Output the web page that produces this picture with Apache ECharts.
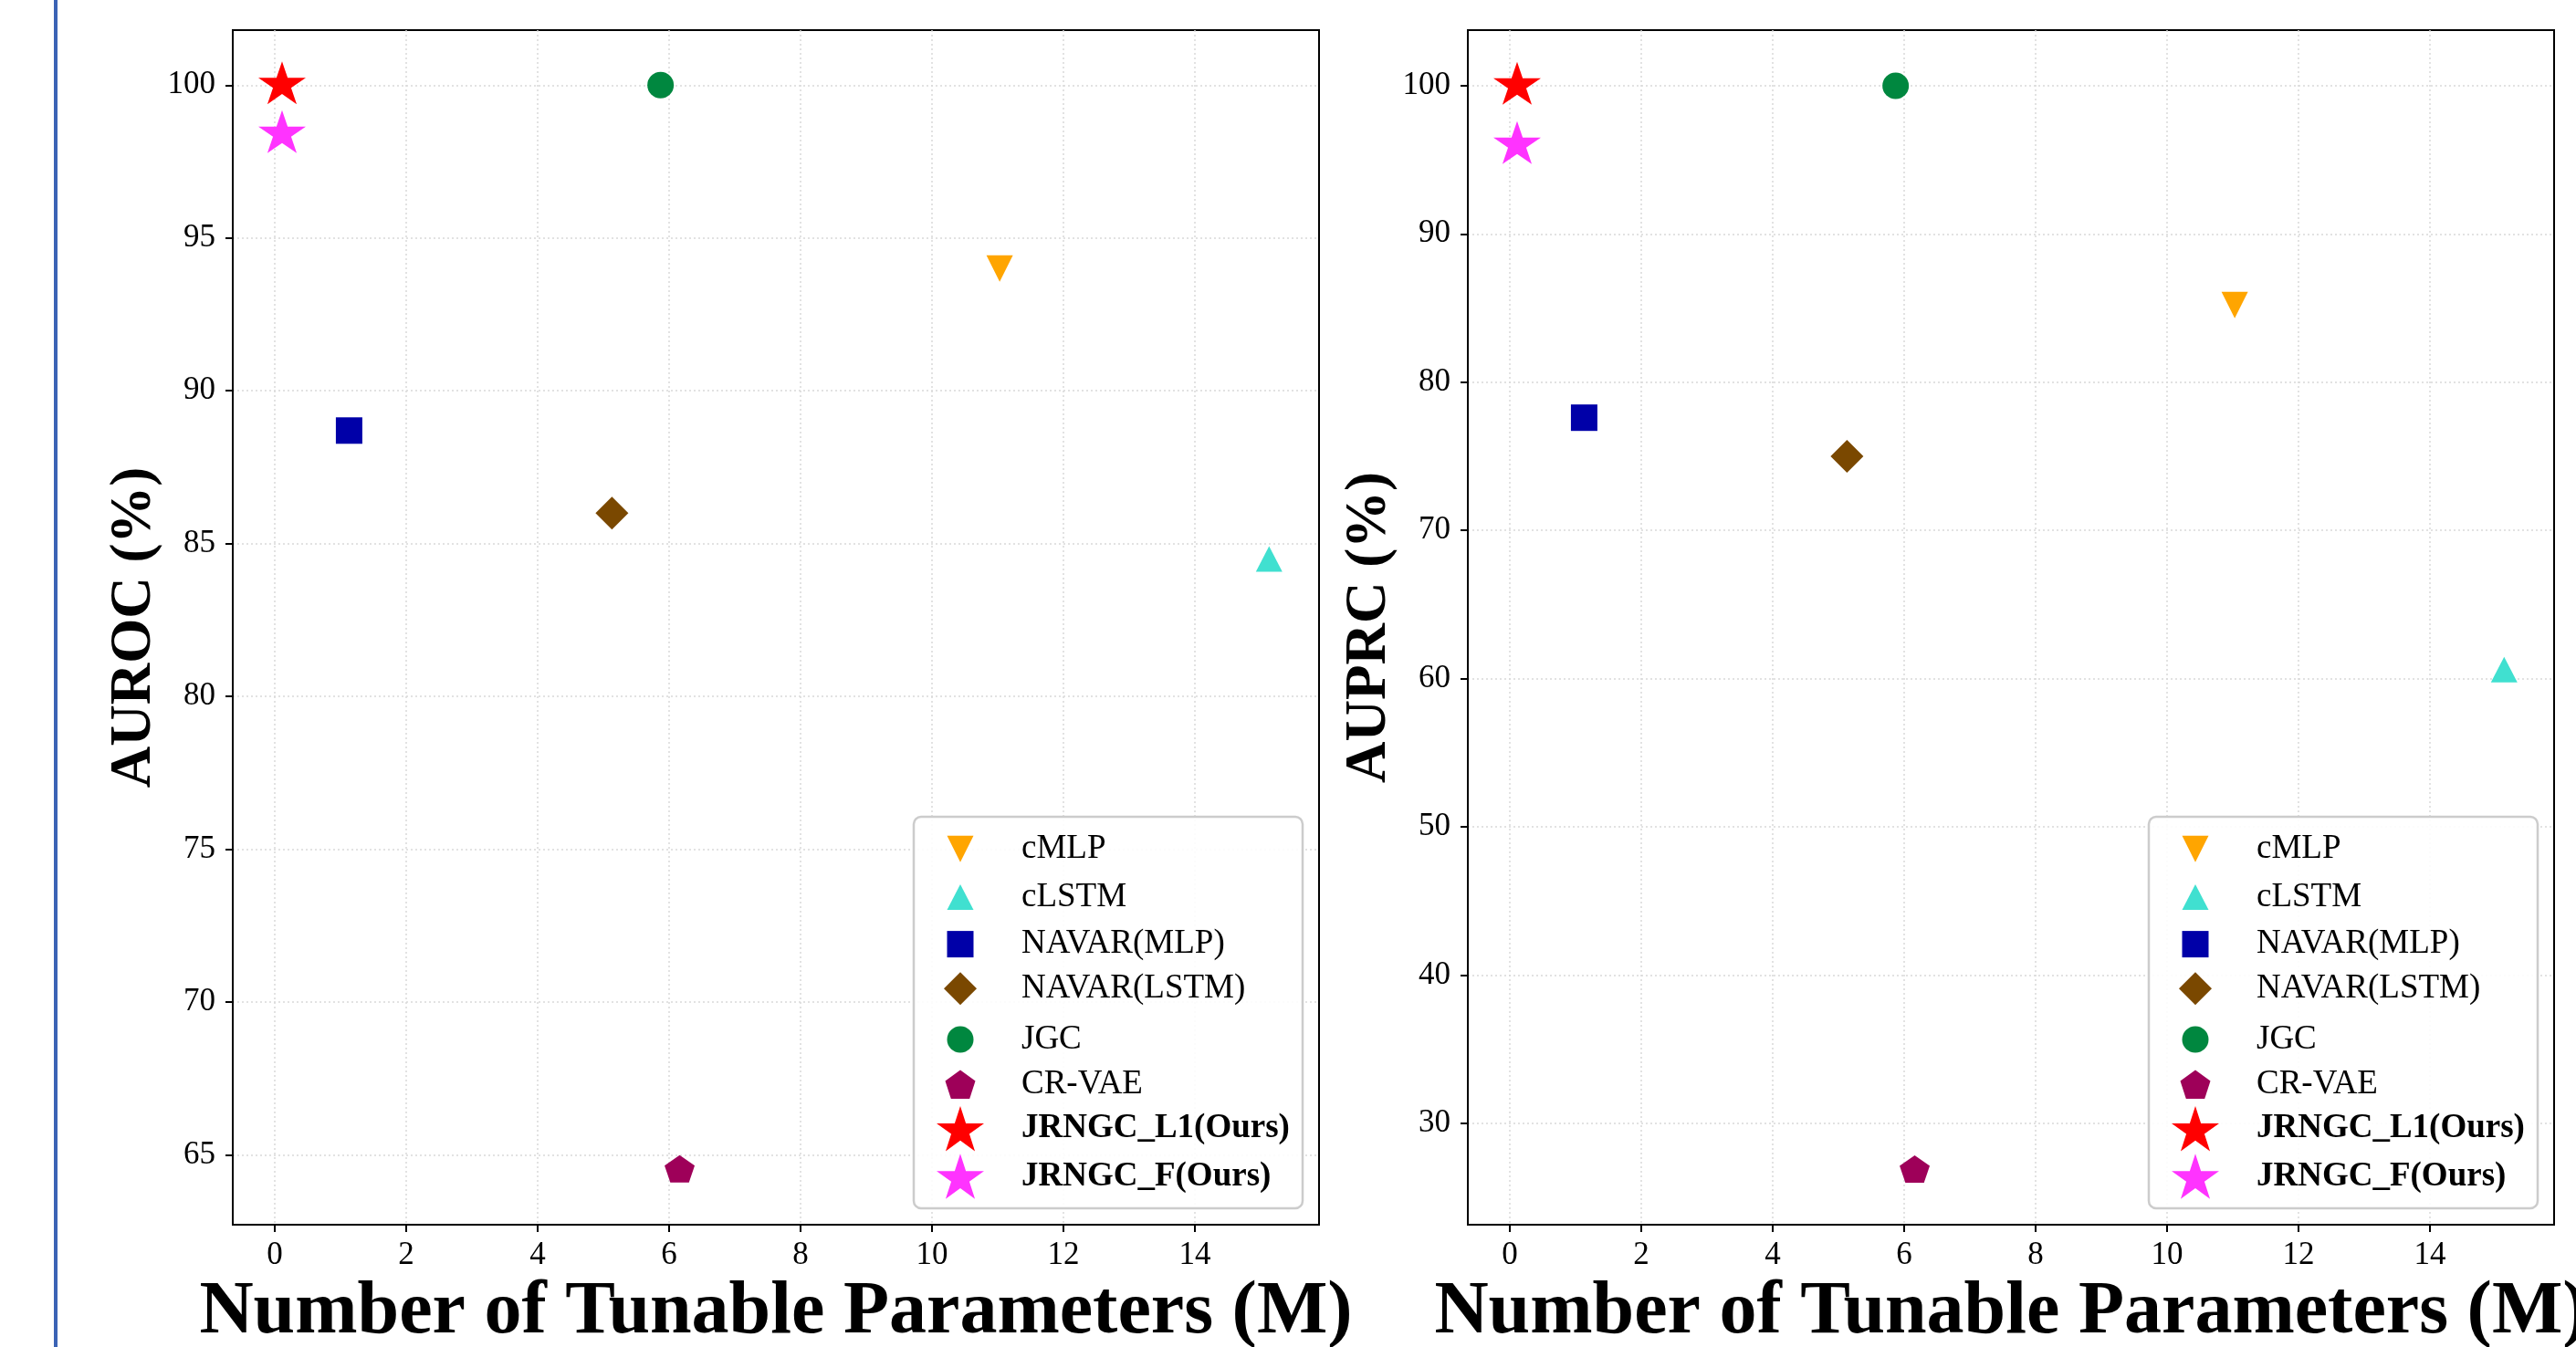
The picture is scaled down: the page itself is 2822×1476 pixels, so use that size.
<!DOCTYPE html>
<html>
<head>
<meta charset="utf-8">
<script src="https://cdn.jsdelivr.net/npm/echarts@6/dist/echarts.min.js"></script>
<style>html,body{margin:0;padding:0;background:#fff;}#c{width:2822px;height:1476px;}</style>
</head>
<body>
<div id="c"></div>
<script>
// ---------- data ----------
var methods = ['cMLP', 'cLSTM', 'NAVAR(MLP)', 'NAVAR(LSTM)', 'JGC', 'CR-VAE', 'JRNGC_L1(Ours)', 'JRNGC_F(Ours)'];
var params  = [11.03, 15.13, 1.13, 5.13, 5.87, 6.16, 0.11, 0.11];
var auroc   = [94.0, 84.5, 88.7, 86.0, 100.0, 64.5, 100.0, 98.4];
var auprc   = [85.2, 60.6, 77.6, 75.0, 100.0, 26.8, 100.0, 96.0];
var xTicks      = [0, 2, 4, 6, 8, 10, 12, 14];
var yTicksAuroc = [65, 70, 75, 80, 85, 90, 95, 100];
var yTicksAuprc = [30, 40, 50, 60, 70, 80, 90, 100];
var yTitles = ['AUROC (%)', 'AUPRC (%)'];
var xTitle = 'Number of Tunable Parameters (M)';

// ---------- styles ----------
function starPath() {
  var s = 'path://';
  for (var i = 0; i < 10; i++) {
    var a = (-90 + 36 * i) * Math.PI / 180;
    var r = i % 2 === 0 ? 1 : 0.381966;
    s += (i === 0 ? 'M' : 'L') + (r * Math.cos(a)).toFixed(4) + ',' + (r * Math.sin(a)).toFixed(4) + ' ';
  }
  return s + 'Z';
}
function pentPath() {
  var s = 'path://';
  for (var i = 0; i < 5; i++) {
    var a = (-90 + 72 * i) * Math.PI / 180;
    s += (i === 0 ? 'M' : 'L') + Math.cos(a).toFixed(4) + ',' + Math.sin(a).toFixed(4) + ' ';
  }
  return s + 'Z';
}
var STAR = starPath(), PENT = pentPath();
var styles = [
  {color: '#FFA500', symbol: 'path://M-1,-1 L1,-1 L0,1 Z', size: [29, 29], off: 0, bold: false},
  {color: '#40E0D0', symbol: 'triangle', size: [29, 28], off: 0, bold: false},
  {color: '#0000A8', symbol: 'rect', size: [29, 29], off: 0, bold: false},
  {color: '#7A4800', symbol: 'diamond', size: [36, 36], off: 0, bold: false},
  {color: '#00873F', symbol: 'circle', size: [29, 29], off: 0, bold: false},
  {color: '#9E0059', symbol: PENT, size: [33, 31.5], off: 1.7, bold: false},
  {color: '#FF0000', symbol: STAR, size: [52, 49.5], off: 2.6, bold: true},
  {color: '#FF33FF', symbol: STAR, size: [52, 49.5], off: 2.6, bold: true}
];

var FONT = 'Liberation Serif';
var grids = [
  {left: 255, top: 33, width: 1190, height: 1309},
  {left: 1608, top: 33, width: 1190, height: 1309}
];
var yRanges = [[62.72, 101.8], [23.15, 103.75]];
var yTickSets = [yTicksAuroc, yTicksAuprc];
var yData = [auroc, auprc];

var option = {
  backgroundColor: '#ffffff',
  animation: false,
  grid: [], xAxis: [], yAxis: [], series: [], legend: [], graphic: []
};

option.graphic.push({type: 'rect', shape: {x: 59, y: 0, width: 4, height: 1476}, style: {fill: '#3B63B5'}, z: 1});

var splitStyle = {show: true, lineStyle: {color: '#d9d9d9', width: 1.5, type: [2, 3]}};

for (var g = 0; g < 2; g++) {
  var gr = grids[g];
  option.grid.push({left: gr.left, top: gr.top, width: gr.width, height: gr.height,
    containLabel: false, outerBoundsMode: 'none',
    show: true, borderColor: '#000', borderWidth: 2, backgroundColor: 'transparent'});
  option.xAxis.push({
    type: 'value', gridIndex: g, min: -0.64, max: 15.89, splitNumber: 8,
    name: xTitle, nameLocation: 'middle', nameGap: 49,
    nameTextStyle: {fontFamily: FONT, fontSize: 82, fontWeight: 'bold', color: '#000'},
    axisLine: {show: true, onZero: false, lineStyle: {color: '#000', width: 2}},
    axisTick: {show: true, length: 8, lineStyle: {color: '#000', width: 2}, customValues: xTicks},
    axisLabel: {fontFamily: FONT, fontSize: 35, color: '#000', margin: 16, customValues: xTicks},
    splitLine: splitStyle
  });
  option.yAxis.push({
    type: 'value', gridIndex: g, min: yRanges[g][0], max: yRanges[g][1], splitNumber: 8,
    name: yTitles[g], nameLocation: 'middle', nameGap: 73,
    nameTextStyle: {fontFamily: FONT, fontSize: 63, fontWeight: 'bold', color: '#000'},
    axisLine: {show: true, onZero: false, lineStyle: {color: '#000', width: 2}},
    axisTick: {show: true, length: 8, lineStyle: {color: '#000', width: 2}, customValues: yTickSets[g]},
    axisLabel: {fontFamily: FONT, fontSize: 35, color: '#000', margin: 19, customValues: yTickSets[g]},
    splitLine: splitStyle
  });
  for (var i = 0; i < methods.length; i++) {
    var st = styles[i];
    option.series.push({
      type: 'scatter', name: methods[i], xAxisIndex: g, yAxisIndex: g,
      data: [[params[i], yData[g][i]]],
      symbol: st.symbol, symbolSize: st.size, symbolKeepAspect: true,
      symbolOffset: [0, -st.off],
      itemStyle: {color: st.color, opacity: 1},
      z: 3
    });
  }
  // legend box
  var boxLeft = gr.left + gr.width - 444;
  option.graphic.push({type: 'rect', z: 3,
    shape: {x: boxLeft, y: 895, width: 426, height: 429, r: 8},
    style: {fill: 'rgba(255,255,255,0.9)', stroke: '#cccccc', lineWidth: 2.5}});
  var iconCx = boxLeft + 51, textX = boxLeft + 118;
  for (var k = 0; k < methods.length; k++) {
    var s2 = styles[k];
    var rowC = 926.2 + 52.2 * k;
    var w = s2.size[0], h = s2.size[1];
    var lx = iconCx - w / 2;
    option.legend.push({
      data: [methods[k]], left: lx, top: rowC - s2.off - h / 2,
      itemWidth: w, itemHeight: h, padding: 0, itemGap: 0, selectedMode: false, z: 5,
      textStyle: {fontFamily: FONT, fontSize: 37, color: '#000', fontWeight: s2.bold ? 'bold' : 'normal',
        padding: [0, 0, 0, textX - (lx + w + 5)]}
    });
  }
}

var chart = echarts.init(document.getElementById('c'), null, {renderer: 'canvas', width: 2822, height: 1476});
chart.setOption(option);
</script>
</body>
</html>
